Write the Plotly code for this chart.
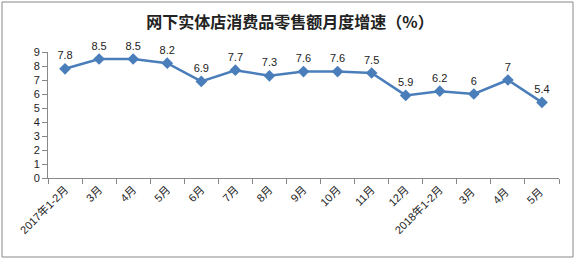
import plotly.graph_objects as go

categories = ["2017年1-2月", "3月", "4月", "5月", "6月", "7月", "8月", "9月", "10月", "11月", "12月",
              "2018年1-2月", "3月 ", "4月 ", "5月 "]
values = [7.8, 8.5, 8.5, 8.2, 6.9, 7.7, 7.3, 7.6, 7.6, 7.5, 5.9, 6.2, 6.0, 7.0, 5.4]
labels = ["7.8", "8.5", "8.5", "8.2", "6.9", "7.7", "7.3", "7.6", "7.6", "7.5", "5.9", "6.2", "6", "7", "5.4"]
title = "网下实体店消费品零售额月度增速（%）"

L, R, T, B = 48, 17, 52, 82
W, H = 576, 260
pw, ph = W - L - R, H - T - B
num_font = "Liberation Sans, Noto Sans CJK SC"

fig = go.Figure(go.Scatter(
    x=categories, y=values, mode="lines+markers+text",
    line=dict(color="#4A7EBB", width=2.5),
    marker=dict(symbol="diamond", size=9, color="#4A7EBB"),
    text=labels, textposition="top center",
    textfont=dict(size=11, color="#222", family=num_font),
    cliponaxis=False,
))

fig.update_layout(
    width=W, height=H, margin=dict(l=L, r=R, t=T, b=B),
    paper_bgcolor="white", plot_bgcolor="white",
    showlegend=False,
    font=dict(family=num_font, size=11, color="#222"),
    title=dict(text="<b>" + title + "</b>", x=(290) / W, xanchor="center",
               y=1 - 22 / H, yanchor="middle",
               font=dict(size=16, color="#222", family="Noto Sans CJK SC")),
    xaxis=dict(type="category", tickson="boundaries", ticks="outside", ticklen=5,
               tickcolor="#888", showline=True, linecolor="#888", linewidth=1,
               showgrid=False, tickangle=-45, tickfont=dict(size=11, family=num_font),
               range=[-0.5, len(categories) - 0.5]),
    yaxis=dict(range=[0, 9], dtick=1, ticks="outside", ticklen=5, tickcolor="#888",
               showline=True, linecolor="#888", linewidth=1, showgrid=False,
               zeroline=False, tickfont=dict(size=11, family=num_font)),
    shapes=[dict(type="rect", xref="paper", yref="paper",
                 x0=(2 - L) / pw, x1=(573 - L) / pw,
                 y0=(T + ph - 257) / ph, y1=(T + ph - 2) / ph,
                 line=dict(color="#888", width=1), fillcolor="rgba(0,0,0,0)", layer="below")],
)

fig.write_html("out.html")
